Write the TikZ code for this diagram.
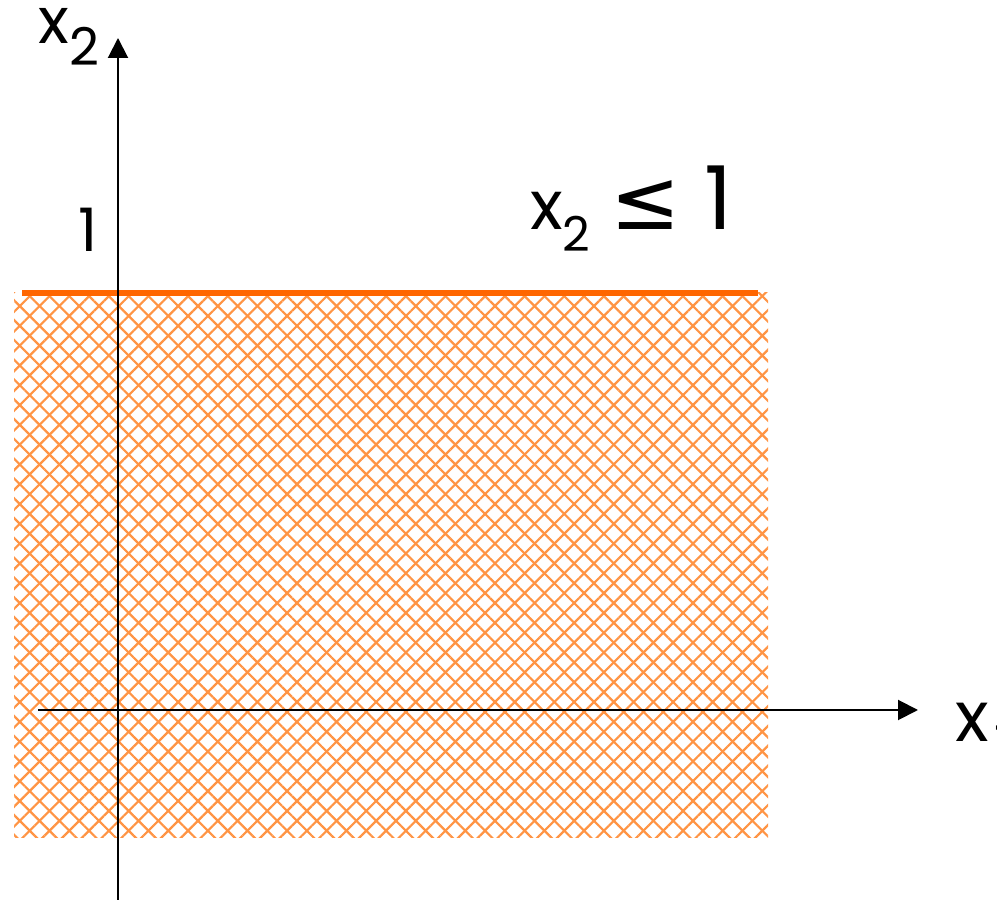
\documentclass[tikz,border=0pt]{standalone}
\usepackage{fontspec}
\setmainfont{Poppins}
\newfontfamily\symfont{DejaVu Sans}
\usetikzlibrary{arrows.meta,patterns.meta,positioning}
\definecolor{ink}   {HTML}{000000}
\definecolor{bound} {HTML}{FF6600}
\definecolor{hatchc}{HTML}{FF9444}
\tikzset{
  % --- lines
  axis/.style  = {line width=1pt, draw=ink, -{Triangle[length=10pt,width=10pt]}},
  limit/.style = {line width=2.6pt, draw=bound},
  hatch/.style = {pattern={Lines[angle=#1,distance=7pt,line width=1.1pt]},
                  pattern color=hatchc},
  % --- labels
  lbl/.style   = {inner sep=0pt, anchor=base west, text=ink},
}
\newcommand\xsub[3]{{\fontsize{#1}{#1}\selectfont x}{\fontsize{#2}{#2}\selectfont\raisebox{-11pt}{#3}}}

\begin{document}
\begin{tikzpicture}[x=0.5pt,y=0.5pt]
  \useasboundingbox (0,0) rectangle (997,900);
  % feasible region x2 <= 1
  \foreach \ang in {45,-45}
    \fill[hatch=\ang] (14,62) rectangle (768,607);
  \coordinate (bl) at (22,607);
  \coordinate (br) at (758,607);
  \draw[limit] (bl) -- (br);
  % axes
  \coordinate (xl) at (38,190);
  \coordinate (xr) at (918,190);
  \coordinate (yb) at (118,0);
  \coordinate (yt) at (118,862);
  \draw[axis] (xl) -- (xr);
  \draw[axis] (yb) -- (yt);
  % labels
  \node[lbl] (ylab) at (38,856) {\xsub{32}{26}{2}};
  \node[lbl] (xlab) at (955,158) {{\fontsize{35}{35}\selectfont x}\hspace{3pt}%
    {\fontsize{26}{26}\selectfont\raisebox{-11pt}{1}}};
  \node[lbl] (one)  at (78,648) {\fontsize{30}{30}\selectfont 1};
  \node[lbl] (cons) at (530,670) {\xsub{34}{24}{2}\hspace{10pt}%
    {\symfont\fontsize{42}{42}\selectfont ≤}\hspace{12pt}%
    {\fontsize{44}{44}\selectfont 1}};
\end{tikzpicture}
\end{document}
